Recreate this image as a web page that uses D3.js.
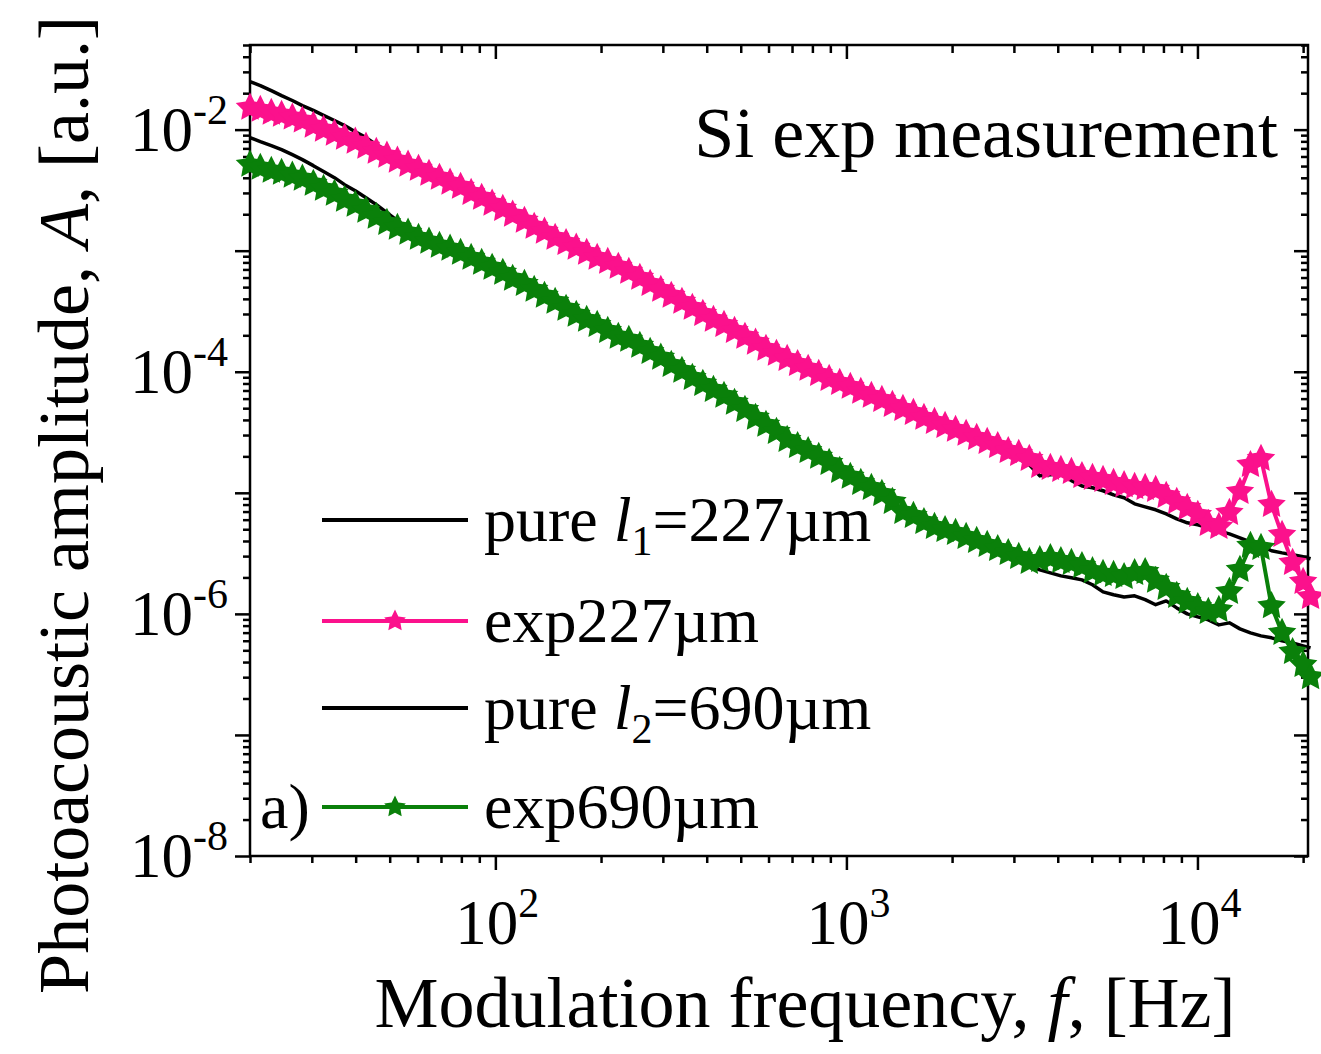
<!DOCTYPE html>
<html>
<head>
<meta charset="utf-8">
<script src="https://cdn.jsdelivr.net/npm/d3@7"></script>
<style>
  body { margin: 0; background: #fff; }
  svg { display: block; }
  text { font-family: "Liberation Serif", "Times New Roman", serif; fill: #000; }
</style>
</head>
<body>
<div id="chart"></div>
<script>
// Fréquences de modulation (Hz), communes aux quatre courbes
const frequency = [
  20, 21.4, 23.0, 24.6, 26.4, 28.2, 30.3, 32.4, 34.8, 37.2,
  39.9, 42.8, 45.8, 49.1, 52.6, 56.4, 60.4, 64.7, 69.3, 74.3,
  79.6, 85.3, 91.4, 97.9, 105, 112, 121, 129, 138, 148,
  159, 170, 182, 195, 209, 224, 240, 258, 276, 296,
  317, 340, 364, 390, 418, 448, 480, 514, 551, 590,
  632, 678, 726, 778, 834, 893, 957, 1026, 1099, 1178,
  1262, 1352, 1449, 1552, 1663, 1782, 1910, 2046, 2193, 2350,
  2518, 2698, 2891, 3097, 3319, 3556, 3811, 4083, 4375, 4688,
  5023, 5383, 5768, 6180, 6622, 7096, 7603, 8147, 8730, 9354,
  10023, 10740, 11508, 12331, 13213, 14158, 15171, 16255, 17418, 18664,
  20000, 21000
];

// pure l1 = 227 µm (courbe noire)
const pure227 = [
  2.49e-2, 2.31e-2, 2.10e-2, 1.91e-2, 1.74e-2, 1.58e-2, 1.44e-2, 1.31e-2, 1.19e-2, 1.08e-2,
  9.62e-3, 8.59e-3, 7.52e-3, 6.70e-3, 5.87e-3, 5.24e-3, 4.58e-3, 4.17e-3, 3.86e-3, 3.51e-3,
  3.25e-3, 2.90e-3, 2.64e-3, 2.36e-3, 2.14e-3, 1.91e-3, 1.70e-3, 1.52e-3, 1.38e-3, 1.23e-3,
  1.12e-3, 1.02e-3, 9.27e-4, 8.43e-4, 7.81e-4, 7.10e-4, 6.46e-4, 5.75e-4, 5.14e-4, 4.58e-4,
  4.09e-4, 3.65e-4, 3.25e-4, 2.90e-4, 2.59e-4, 2.36e-4, 2.10e-4, 1.87e-4, 1.67e-4, 1.49e-4,
  1.36e-4, 1.23e-4, 1.12e-4, 1.02e-4, 9.27e-5, 8.43e-5, 7.81e-5, 7.24e-5, 6.58e-5, 6.10e-5,
  5.65e-5, 5.14e-5, 4.76e-5, 4.41e-5, 4.01e-5, 3.72e-5, 3.44e-5, 3.19e-5, 2.96e-5, 2.74e-5,
  2.49e-5, 2.31e-5, 2.10e-5, 1.91e-5, 1.70e-5, 1.38e-5, 1.41e-5, 1.44e-5, 1.26e-5, 1.14e-5,
  1.10e-5, 1.04e-5, 9.62e-6, 9.10e-6, 8.11e-6, 7.66e-6, 7.24e-6, 6.70e-6, 6.10e-6, 5.65e-6,
  5.44e-6, 5.14e-6, 4.85e-6, 4.58e-6, 4.25e-6, 3.94e-6, 3.65e-6, 3.32e-6, 3.19e-6, 3.08e-6,
  2.96e-6, 2.85e-6
];

// exp227 µm (rose, étoiles)
const exp227 = [
  1.52e-2, 1.46e-2, 1.38e-2, 1.33e-2, 1.26e-2, 1.19e-2, 1.08e-2, 1.00e-2, 9.27e-3, 8.59e-3,
  7.96e-3, 7.24e-3, 6.58e-3, 6.10e-3, 5.55e-3, 5.14e-3, 4.76e-3, 4.33e-3, 4.01e-3, 3.65e-3,
  3.38e-3, 3.01e-3, 2.74e-3, 2.45e-3, 2.22e-3, 1.99e-3, 1.77e-3, 1.58e-3, 1.44e-3, 1.28e-3,
  1.16e-3, 1.06e-3, 9.62e-4, 8.75e-4, 8.11e-4, 7.38e-4, 6.70e-4, 5.98e-4, 5.33e-4, 4.76e-4,
  4.25e-4, 3.79e-4, 3.38e-4, 3.01e-4, 2.69e-4, 2.44e-4, 2.18e-4, 1.95e-4, 1.74e-4, 1.55e-4,
  1.41e-4, 1.28e-4, 1.16e-4, 1.06e-4, 9.62e-5, 8.75e-5, 8.11e-5, 7.52e-5, 6.84e-5, 6.34e-5,
  5.87e-5, 5.33e-5, 4.94e-5, 4.58e-5, 4.17e-5, 3.86e-5, 3.58e-5, 3.32e-5, 3.08e-5, 2.85e-5,
  2.64e-5, 2.44e-5, 2.22e-5, 2.10e-5, 1.91e-5, 1.67e-5, 1.61e-5, 1.55e-5, 1.49e-5, 1.38e-5,
  1.33e-5, 1.28e-5, 1.21e-5, 1.16e-5, 1.12e-5, 1.10e-5, 1.06e-5, 9.44e-6, 8.43e-6, 7.52e-6,
  6.58e-6, 5.55e-6, 5.24e-6, 6.84e-6, 1.02e-5, 1.70e-5, 1.91e-5, 7.96e-6, 4.50e-6, 2.64e-6,
  1.84e-6, 1.38e-6
];

// pure l2 = 690 µm (courbe noire)
const pure690 = [
  8.59e-3, 7.96e-3, 7.38e-3, 6.84e-3, 6.21e-3, 5.65e-3, 5.04e-3, 4.50e-3, 4.01e-3, 3.51e-3,
  3.13e-3, 2.74e-3, 2.40e-3, 2.06e-3, 1.77e-3, 1.52e-3, 1.31e-3, 1.14e-3, 1.06e-3, 1.00e-3,
  9.27e-4, 8.43e-4, 7.66e-4, 6.97e-4, 6.34e-4, 5.65e-4, 5.14e-4, 4.58e-4, 4.09e-4, 3.65e-4,
  3.19e-4, 2.85e-4, 2.59e-4, 2.36e-4, 2.10e-4, 1.87e-4, 1.77e-4, 1.58e-4, 1.41e-4, 1.26e-4,
  1.10e-4, 9.82e-5, 8.59e-5, 7.66e-5, 6.84e-5, 6.10e-5, 5.33e-5, 4.67e-5, 4.01e-5, 3.51e-5,
  3.08e-5, 2.64e-5, 2.36e-5, 2.14e-5, 1.91e-5, 1.70e-5, 1.46e-5, 1.31e-5, 1.16e-5, 1.06e-5,
  9.44e-6, 8.11e-6, 6.70e-6, 6.21e-6, 5.55e-6, 5.04e-6, 4.76e-6, 4.50e-6, 4.17e-6, 3.86e-6,
  3.58e-6, 3.32e-6, 3.01e-6, 2.74e-6, 2.49e-6, 2.31e-6, 2.18e-6, 2.06e-6, 1.99e-6, 1.91e-6,
  1.74e-6, 1.52e-6, 1.44e-6, 1.38e-6, 1.41e-6, 1.31e-6, 1.19e-6, 1.28e-6, 1.12e-6, 1.00e-6,
  9.44e-7, 8.91e-7, 8.11e-7, 8.43e-7, 7.52e-7, 6.97e-7, 6.58e-7, 6.34e-7, 5.98e-7, 5.75e-7,
  5.44e-7, 5.24e-7
];

// exp690 µm (vert, étoiles)
const exp690 = [
  5.14e-3, 4.85e-3, 4.58e-3, 4.41e-3, 4.17e-3, 3.94e-3, 3.58e-3, 3.25e-3, 2.96e-3, 2.64e-3,
  2.40e-3, 2.14e-3, 1.91e-3, 1.70e-3, 1.55e-3, 1.41e-3, 1.28e-3, 1.19e-3, 1.10e-3, 1.04e-3,
  9.62e-4, 8.75e-4, 7.96e-4, 7.24e-4, 6.58e-4, 5.87e-4, 5.33e-4, 4.76e-4, 4.25e-4, 3.79e-4,
  3.32e-4, 2.96e-4, 2.69e-4, 2.44e-4, 2.18e-4, 1.95e-4, 1.84e-4, 1.64e-4, 1.46e-4, 1.31e-4,
  1.14e-4, 1.02e-4, 8.91e-5, 7.96e-5, 7.10e-5, 6.34e-5, 5.55e-5, 4.85e-5, 4.17e-5, 3.65e-5,
  3.19e-5, 2.74e-5, 2.44e-5, 2.22e-5, 1.99e-5, 1.77e-5, 1.52e-5, 1.36e-5, 1.21e-5, 1.10e-5,
  9.82e-6, 8.43e-6, 6.97e-6, 6.46e-6, 5.75e-6, 5.24e-6, 4.94e-6, 4.67e-6, 4.33e-6, 4.01e-6,
  3.72e-6, 3.44e-6, 3.19e-6, 2.96e-6, 2.69e-6, 2.79e-6, 2.90e-6, 2.74e-6, 2.64e-6, 2.49e-6,
  2.26e-6, 2.14e-6, 2.10e-6, 2.02e-6, 2.18e-6, 2.22e-6, 1.88e-6, 1.64e-6, 1.41e-6, 1.26e-6,
  1.14e-6, 1.04e-6, 1.08e-6, 1.52e-6, 2.31e-6, 3.65e-6, 3.51e-6, 1.16e-6, 6.97e-7, 4.85e-7,
  3.79e-7, 3.01e-7
];

// Graduations
const xMajorTicks = [1e2, 1e3, 1e4];
const xTickExponents = ["2", "3", "4"];
const yMajorTicks = [1e-8, 1e-7, 1e-6, 1e-5, 1e-4, 1e-3, 1e-2];
const yLabelTicks = [1e-2, 1e-4, 1e-6, 1e-8];
const yTickExponents = ["-2", "-4", "-6", "-8"];

const PINK = "#fb118c";
const GREEN = "#0a800a";

const width = 1321, height = 1054;
const margin = { top: 45, right: 13, bottom: 198, left: 250 };

const svg = d3.select("#chart").append("svg")
  .attr("width", width)
  .attr("height", height);

const x = d3.scaleLog()
  .domain([20, 20650])
  .range([margin.left, width - margin.right]);

const y = d3.scaleLog()
  .domain([1e-8, 0.05])
  .range([height - margin.bottom, margin.top]);

const isPow10 = v => Math.abs(Math.log10(v) - Math.round(Math.log10(v))) < 1e-9;
const xMinor = x.ticks().filter(v => !isPow10(v));
const yMinor = y.ticks().filter(v => !isPow10(v));

const x0 = margin.left, x1 = width - margin.right;
const y0 = height - margin.bottom, y1 = margin.top;

// Axes : bas et gauche vers l'extérieur, haut et droite vers l'intérieur
function tickGroup(axis, transform) {
  const g = svg.append("g").attr("transform", transform).call(axis);
  g.select(".domain").remove();
  g.selectAll("text").remove();
  g.selectAll("line").attr("stroke", "#000").attr("stroke-width", 2.5);
  return g;
}

tickGroup(d3.axisBottom(x).tickValues(xMinor).tickSize(7), `translate(0,${y0})`);
tickGroup(d3.axisBottom(x).tickValues(xMajorTicks).tickSize(14), `translate(0,${y0})`);
tickGroup(d3.axisBottom(x).tickValues(xMinor).tickSize(8), `translate(0,${y1})`);
tickGroup(d3.axisBottom(x).tickValues(xMajorTicks).tickSize(14), `translate(0,${y1})`);

tickGroup(d3.axisLeft(y).tickValues(yMinor).tickSize(7), `translate(${x0},0)`);
tickGroup(d3.axisLeft(y).tickValues(yMajorTicks).tickSize(15), `translate(${x0},0)`);
tickGroup(d3.axisLeft(y).tickValues(yMinor).tickSize(7), `translate(${x1},0)`);
tickGroup(d3.axisLeft(y).tickValues(yMajorTicks).tickSize(14), `translate(${x1},0)`);

svg.append("rect")
  .attr("x", x0).attr("y", y1)
  .attr("width", x1 - x0).attr("height", y0 - y1)
  .attr("fill", "none")
  .attr("stroke", "#000")
  .attr("stroke-width", 2.5);

// Libellés des graduations (10^n)
const xLab = svg.append("g").selectAll("text")
  .data(xMajorTicks)
  .join("text")
  .attr("x", d => x(d) + 2)
  .attr("y", 944)
  .attr("text-anchor", "middle")
  .style("font-size", "63px");
xLab.append("tspan").text("10");
xLab.append("tspan")
  .attr("dy", -27)
  .style("font-size", "42px")
  .text((d, i) => xTickExponents[i]);

const yLab = svg.append("g").selectAll("text")
  .data(yLabelTicks)
  .join("text")
  .attr("x", 228)
  .attr("y", d => y(d) + 21)
  .attr("text-anchor", "end")
  .style("font-size", "63px");
yLab.append("tspan").text("10");
yLab.append("tspan")
  .attr("dy", -27)
  .style("font-size", "42px")
  .text((d, i) => yTickExponents[i]);

// Titres des axes
const xTitle = svg.append("text")
  .attr("x", 805)
  .attr("y", 1027)
  .attr("text-anchor", "middle")
  .style("font-size", "72px");
xTitle.append("tspan").text("Modulation frequency, ");
xTitle.append("tspan").style("font-style", "italic").text("f");
xTitle.append("tspan").text(", [Hz]");

const yTitle = svg.append("text")
  .attr("transform", "translate(88,505) rotate(-90)")
  .attr("text-anchor", "middle")
  .style("font-size", "72px");
yTitle.append("tspan").text("Photoacoustic amplitude, ");
yTitle.append("tspan").style("font-style", "italic").text("A");
yTitle.append("tspan").text(", [a.u.]");

svg.append("text")
  .attr("x", 1278)
  .attr("y", 157)
  .attr("text-anchor", "end")
  .style("font-size", "72px")
  .text("Si exp measurement");

// Étoile à 5 branches un peu plus "grasse" que d3.symbolStar (style Origin)
const fatStar = {
  draw(context, size) {
    const r = Math.sqrt(size);
    const ri = r * 0.5;
    for (let i = 0; i < 10; i++) {
      const a = Math.PI * i / 5;
      const rr = i % 2 === 0 ? r : ri;
      const px = Math.sin(a) * rr, py = -Math.cos(a) * rr;
      if (i === 0) context.moveTo(px, py); else context.lineTo(px, py);
    }
    context.closePath();
  }
};

// Courbes
const series = [
  { values: pure227, color: "#000", stars: false },
  { values: pure690, color: "#000", stars: false },
  { values: exp227, color: PINK, stars: true },
  { values: exp690, color: GREEN, stars: true }
];

const line = d3.line()
  .x(d => x(d[0]))
  .y(d => y(d[1]));

const star = d3.symbol().type(fatStar).size(225);

series.forEach(s => {
  const pts = frequency.map((f, i) => [f, s.values[i]]);
  svg.append("path")
    .datum(pts)
    .attr("fill", "none")
    .attr("stroke", s.color)
    .attr("stroke-width", s.stars ? 4 : 3.5)
    .attr("stroke-linejoin", "round")
    .attr("d", line);
  if (s.stars) {
    svg.append("g").selectAll("path")
      .data(pts)
      .join("path")
      .attr("transform", d => `translate(${x(d[0])},${y(d[1])})`)
      .attr("d", star)
      .attr("fill", s.color);
  }
});

// Légende
const legend = [
  { color: "#000", stars: false, ly: 520, pre: "pure ", ital: "l", sub: "1", post: "=227\u00b5m" },
  { color: PINK, stars: true, ly: 621, pre: "exp227\u00b5m" },
  { color: "#000", stars: false, ly: 708, pre: "pure ", ital: "l", sub: "2", post: "=690\u00b5m" },
  { color: GREEN, stars: true, ly: 807, pre: "exp690\u00b5m" }
];

const legendStar = d3.symbol().type(fatStar).size(130);

const lg = svg.append("g");
legend.forEach(e => {
  lg.append("line")
    .attr("x1", 322).attr("x2", 468)
    .attr("y1", e.ly).attr("y2", e.ly)
    .attr("stroke", e.color)
    .attr("stroke-width", 4);
  if (e.stars) {
    lg.append("path")
      .attr("transform", `translate(395,${e.ly})`)
      .attr("d", legendStar)
      .attr("fill", e.color);
  }
  const t = lg.append("text")
    .attr("x", 484)
    .attr("y", e.ly + 21)
    .style("font-size", "64px");
  t.append("tspan").text(e.pre);
  if (e.ital) {
    t.append("tspan").style("font-style", "italic").text(e.ital);
    t.append("tspan").attr("dy", 14).style("font-size", "42px").text(e.sub);
    t.append("tspan").attr("dy", -14).text(e.post);
  }
});

lg.append("text")
  .attr("x", 260)
  .attr("y", 828)
  .style("font-size", "64px")
  .text("a)");
</script>
</body>
</html>
